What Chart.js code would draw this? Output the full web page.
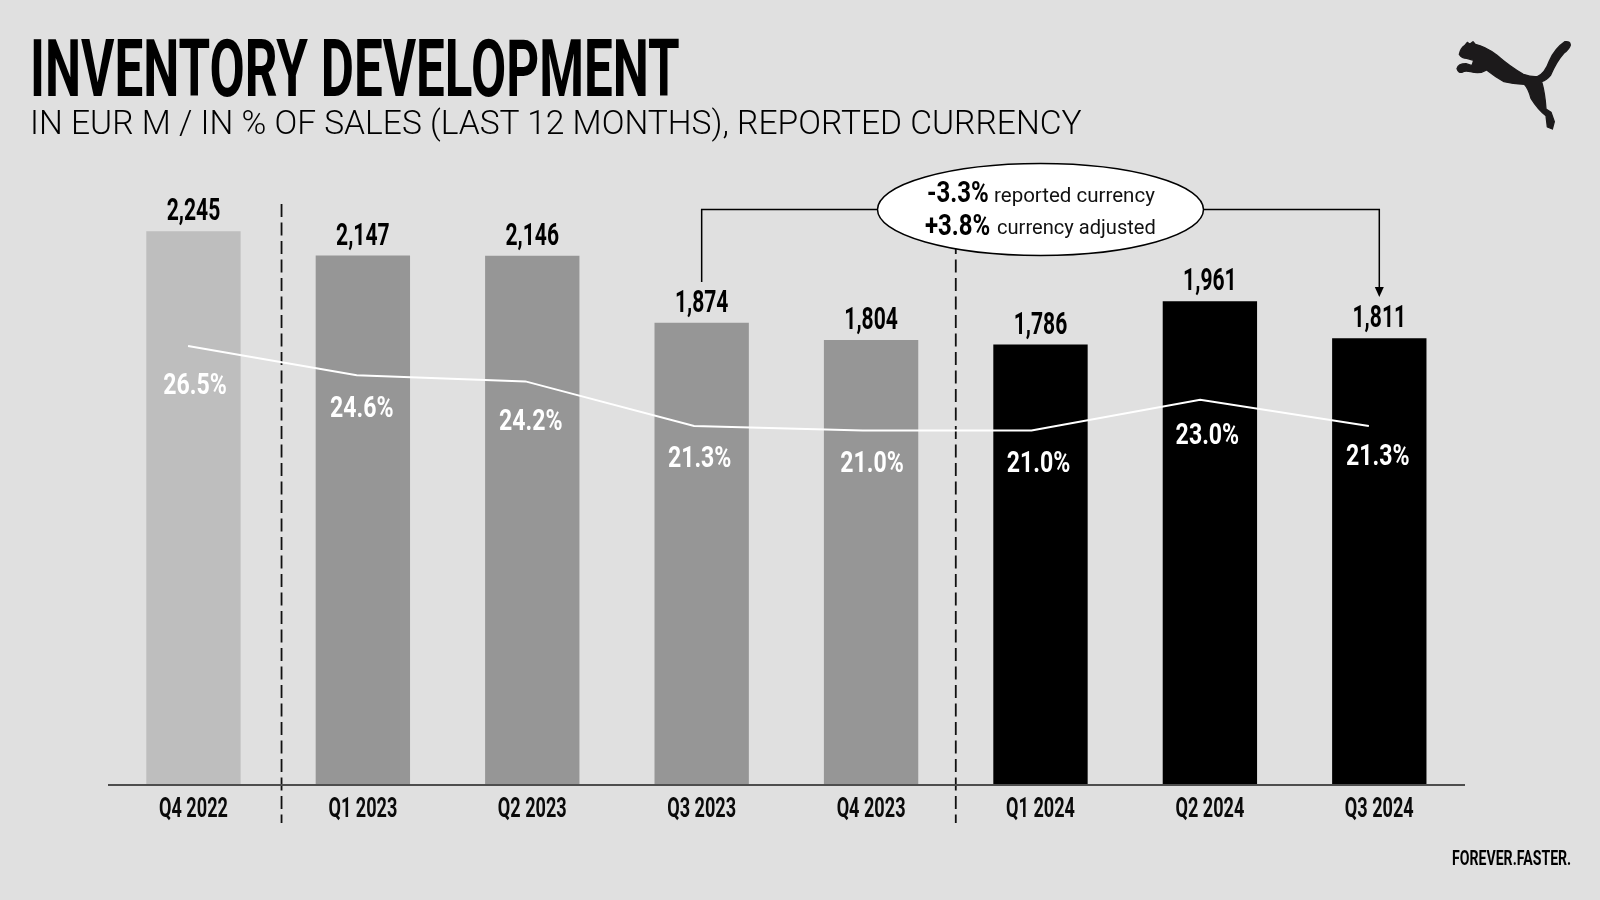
<!DOCTYPE html>
<html>
<head>
<meta charset="utf-8">
<title>Inventory development</title>
<script src="https://cdn.jsdelivr.net/npm/chart.js@4/dist/chart.umd.min.js"></script>
<style>
    html, body { margin: 0; padding: 0; width: 1600px; height: 900px; overflow: hidden; background: #e0e0e0; }
    #inventory_chart { position: absolute; left: 0; top: 0; }
    .txt { position: absolute; white-space: nowrap; font-family: Roboto, sans-serif; line-height: 1; color: #000; transform-origin: 0 0; }
    #title { left: 30px; top: 29.3px; font-size: 80px; font-weight: 700; }
    #subtitle { left: 30px; top: 105.6px; font-size: 33.8px; font-weight: 300; color: #000; }
    #footer { left: 1452px; top: 849px; font-size: 19.7px; font-weight: 700; }
    #logo { position: absolute; left: 1430px; top: 25px; width: 170px; height: 120px; }
</style>
</head>
<body>
<canvas id="inventory_chart" width="1600" height="900"></canvas>
<div class="txt" id="title" data-fit="650">INVENTORY DEVELOPMENT</div>
<div class="txt" id="subtitle" data-fit="1052">IN EUR M / IN % OF SALES (LAST 12 MONTHS), REPORTED CURRENCY</div>
<div class="txt" id="footer" data-fit="119">FOREVER.FASTER.</div>
<svg id="logo" viewBox="0 0 510 360">
    <path fill="#1c1a1b" stroke="#1c1a1b" stroke-width="4" stroke-linejoin="round"
          d="M88 88 Q92 70 104 62 L112 52 L119 58 L129 50 L136 58 Q165 64 200 90 Q240 125 280 148 Q305 157 322 155 Q345 145 358 108 Q375 70 405 50 Q420 48 421 60 Q418 72 402 84 Q380 108 362 150 Q350 165 335 170 Q345 205 348 252 L363 262 L373 290 L367 312 L352 306 L348 272 Q325 255 303 220 Q295 190 283 178 Q255 178 222 170 Q195 155 170 135 Q150 148 122 140 Q105 136 98 141 Q85 145 81 131 Q85 116 108 116 L126 122 L131 106 L110 100 Q96 100 88 88 Z"/>
</svg>
<script>
// Inventaire en EUR m et en % des ventes
const categories = ["Q4 2022", "Q1 2023", "Q2 2023", "Q3 2023", "Q4 2023", "Q1 2024", "Q2 2024", "Q3 2024"];
const inventory_values = [2245, 2147, 2146, 1874, 1804, 1786, 1961, 1811];
const pct_of_sales = [26.5, 24.6, 24.2, 21.3, 21.0, 21.0, 23.0, 21.3];
const pct_labels = ["26.5%", "24.6%", "24.2%", "21.3%", "21.0%", "21.0%", "23.0%", "21.3%"];
const change_values = ["-3.3%", "+3.8%"];
const change_notes = ["reported currency", "currency adjusted"];

const bar_colors = ["#bebebe", "#969696", "#969696", "#969696", "#969696", "#000000", "#000000", "#000000"];
// le texte des % n'est pas a la meme place sur chaque barre
const pct_label_dx = [1.5, -1, -1.5, -2, 1, -2, -2.5, -1.5];
const pct_label_dy = [48, 42, 49, 41, 41, 41, 44, 39];
const divider_positions = [0.52, 4.5];

function fill_narrow(ctx, text, x, y, k) {
    ctx.save();
    ctx.translate(x, y);
    ctx.scale(k, 1);
    ctx.fillText(text, 0, 0);
    ctx.restore();
}

// axe categories avec un texte condense, comme la police DIN de l'original
class NarrowCategoryScale extends Chart.CategoryScale {
    static id = 'narrowCategory';
    static defaults = Chart.CategoryScale.defaults;
    drawLabels(chartArea) {
        const ctx = this.ctx;
        const real_fill = ctx.fillText;
        ctx.fillText = function (text, x, y, max_width) {
            this.save();
            this.scale(0.67, 1);
            real_fill.call(this, text, x / 0.67, y, max_width);
            this.restore();
        };
        super.drawLabels(chartArea);
        delete ctx.fillText;
    }
}
Chart.register(NarrowCategoryScale);

const dividers_plugin = {
    id: 'dividers',
    beforeDatasetsDraw(chart) {
        const ctx = chart.ctx;
        ctx.save();
        ctx.strokeStyle = "#111";
        ctx.lineWidth = 1.8;
        ctx.setLineDash([13, 5.5]);
        divider_positions.forEach((p) => {
            const x = chart.scales.x.getPixelForValue(p);
            ctx.beginPath();
            ctx.moveTo(x, 204);
            ctx.lineTo(x, 823);
            ctx.stroke();
        });
        ctx.restore();
    }
};

const labels_plugin = {
    id: 'value_labels',
    afterDatasetsDraw(chart) {
        const ctx = chart.ctx;
        const bars = chart.getDatasetMeta(1).data;
        const y_pct = chart.scales.yPct;
        ctx.save();
        ctx.textAlign = "center";
        ctx.textBaseline = "alphabetic";
        bars.forEach((bar, i) => {
            ctx.fillStyle = "#000";
            ctx.font = "700 31px Roboto";
            fill_narrow(ctx, inventory_values[i].toLocaleString("en-US"), bar.x, bar.y - 11, 0.68);
            ctx.fillStyle = "#fff";
            ctx.font = "700 30px Roboto";
            fill_narrow(ctx, pct_labels[i], bar.x + pct_label_dx[i], y_pct.getPixelForValue(pct_of_sales[i]) + pct_label_dy[i], 0.77);
        });
        ctx.restore();

        // bulle et connecteur entre Q3 2023 et Q3 2024
        const from_x = chart.scales.x.getPixelForValue(3);
        const to_x = chart.scales.x.getPixelForValue(7);
        ctx.save();
        ctx.strokeStyle = "#000";
        ctx.lineWidth = 1.5;
        ctx.beginPath();
        ctx.moveTo(from_x, 282);
        ctx.lineTo(from_x, 209.5);
        ctx.lineTo(to_x, 209.5);
        ctx.lineTo(to_x, 288);
        ctx.stroke();
        ctx.fillStyle = "#000";
        ctx.beginPath();
        ctx.moveTo(to_x - 4.5, 287);
        ctx.lineTo(to_x + 4.5, 287);
        ctx.lineTo(to_x, 297);
        ctx.closePath();
        ctx.fill();
        ctx.fillStyle = "#fff";
        ctx.beginPath();
        ctx.ellipse(1040.5, 209.5, 163, 46, 0, 0, Math.PI * 2);
        ctx.fill();
        ctx.stroke();

        ctx.textAlign = "left";
        ctx.fillStyle = "#000";
        ctx.font = "700 30px Roboto";
        fill_narrow(ctx, change_values[0], 927, 202, 0.80);
        fill_narrow(ctx, change_values[1], 925, 234.5, 0.80);
        ctx.fillStyle = "#111";
        ctx.font = "400 20.5px Roboto";
        fill_narrow(ctx, change_notes[0], 994, 202, 1.0);
        fill_narrow(ctx, change_notes[1], 997, 234, 0.98);
        ctx.restore();
    }
};

new Chart(document.getElementById('inventory_chart').getContext('2d'), {
    data: {
        labels: categories,
        datasets: [{
            type: 'line',
            order: 0,
            xAxisID: 'xLine',
            yAxisID: 'yPct',
            data: pct_of_sales.map((v, i) => ({ x: i, y: v })),
            borderColor: "#ffffff",
            borderWidth: 2,
            pointRadius: 0,
            tension: 0
        }, {
            type: 'bar',
            order: 1,
            xAxisID: 'x',
            yAxisID: 'y',
            data: inventory_values,
            backgroundColor: bar_colors,
            grouped: false,
            categoryPercentage: 1,
            barPercentage: 0.557
        }]
    },
    options: {
        responsive: false,
        animation: false,
        events: [],
        layout: { autoPadding: false, padding: { left: 108.75, right: 136, top: 168.5, bottom: 64.8 } },
        plugins: { legend: { display: false }, tooltip: { enabled: false }, title: { display: false } },
        scales: {
            x: {
                type: 'narrowCategory',
                position: 'bottom',
                grid: { display: false, drawTicks: false },
                border: { color: "#4d4d4d", width: 2, z: 1 },
                ticks: {
                    color: "#0a0a0a",
                    font: { family: "Roboto", size: 27, weight: "700" },
                    padding: 9,
                    maxRotation: 0,
                    autoSkip: false
                }
            },
            // la ligne blanche n'est pas tout a fait centree sur les barres
            xLine: { type: 'linear', display: false, min: -0.47, max: 7.564 },
            y: { display: false, min: 0, max: 2500 },
            yPct: { display: false, min: -2.08, max: 38.07 }
        }
    },
    plugins: [dividers_plugin, labels_plugin]
});

document.querySelectorAll('[data-fit]').forEach((el) => {
    const k = parseFloat(el.dataset.fit) / el.offsetWidth;
    el.style.transform = "scaleX(" + k + ")";
});
</script>
</body>
</html>
